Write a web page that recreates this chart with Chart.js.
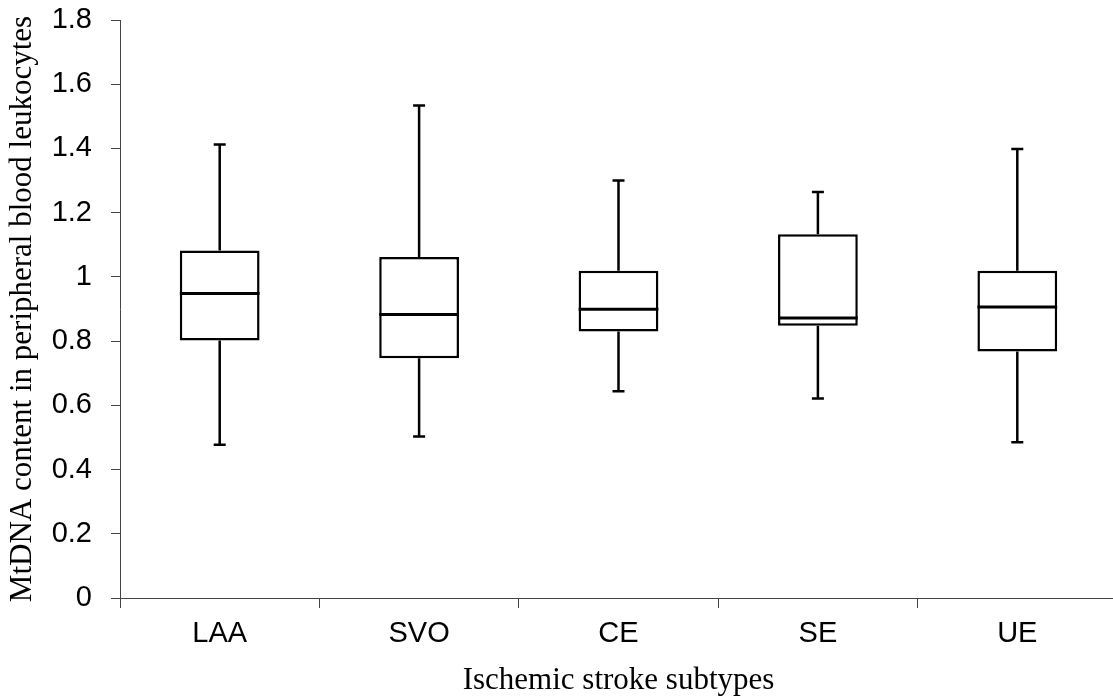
<!DOCTYPE html>
<html>
<head>
<meta charset="utf-8">
<script src="https://cdn.jsdelivr.net/npm/chart.js@4.4.1/dist/chart.umd.min.js"></script>
<style>
  html, body { margin: 0; padding: 0; background: #fff; overflow: hidden; }
  #wrap { width: 1117px; height: 699px; }
</style>
</head>
<body>
<div id="wrap"><canvas id="box-chart" width="1117" height="699"></canvas></div>
<script>
// stroke subtypes and box plot statistics
const subtypes = ["LAA", "SVO", "CE", "SE", "UE"];
const whiskerLow = [0.477, 0.503, 0.644, 0.621, 0.485];
const q1 = [0.802, 0.747, 0.830, 0.848, 0.768];
const median = [0.948, 0.883, 0.899, 0.872, 0.906];
const q3 = [1.082, 1.062, 1.019, 1.133, 1.019];
const whiskerHigh = [1.412, 1.534, 1.300, 1.264, 1.398];
const yTicks = [0, 0.2, 0.4, 0.6, 0.8, 1, 1.2, 1.4, 1.6, 1.8];

// whiskers + median drawn on top of the floating bars
const boxPlugin = {
  id: "boxExtras",
  afterDatasetsDraw(chart) {
    const ctx = chart.ctx;
    const x = chart.scales.x;
    const y = chart.scales.y;
    const cap = 6;
    ctx.save();
    ctx.strokeStyle = "#000";
    ctx.lineCap = "butt";
    subtypes.forEach(function (s, i) {
      const cx = x.getPixelForValue(i);
      const meta = chart.getDatasetMeta(0).data[i];
      const half = meta.width / 2;
      ctx.lineWidth = 2.5;
      ctx.beginPath();
      ctx.moveTo(cx, y.getPixelForValue(q3[i]));
      ctx.lineTo(cx, y.getPixelForValue(whiskerHigh[i]));
      ctx.moveTo(cx - cap, y.getPixelForValue(whiskerHigh[i]));
      ctx.lineTo(cx + cap, y.getPixelForValue(whiskerHigh[i]));
      ctx.moveTo(cx, y.getPixelForValue(q1[i]));
      ctx.lineTo(cx, y.getPixelForValue(whiskerLow[i]));
      ctx.moveTo(cx - cap, y.getPixelForValue(whiskerLow[i]));
      ctx.lineTo(cx + cap, y.getPixelForValue(whiskerLow[i]));
      ctx.stroke();
      ctx.lineWidth = 3;
      ctx.beginPath();
      ctx.moveTo(cx - half, y.getPixelForValue(median[i]));
      ctx.lineTo(cx + half, y.getPixelForValue(median[i]));
      ctx.stroke();
    });
    ctx.restore();
  }
};

new Chart(document.getElementById("box-chart"), {
  type: "bar",
  data: {
    labels: subtypes,
    datasets: [{
      data: subtypes.map(function (s, i) { return [q1[i], q3[i]]; }),
      backgroundColor: "#fff",
      borderColor: "#000",
      borderWidth: 2.5,
      borderSkipped: false,
      barPercentage: 0.4,
      categoryPercentage: 1
    }]
  },
  options: {
    responsive: false,
    animation: false,
    layout: { padding: { top: 20, right: 0, left: 0, bottom: 0 } },
    plugins: {
      legend: { display: false },
      tooltip: { enabled: false }
    },
    scales: {
      x: {
        offset: true,
        grid: { display: true, offset: true, drawOnChartArea: false, tickLength: 10, color: "#444", lineWidth: 1 },
        border: { color: "#444", width: 1 },
        ticks: { color: "#000", padding: 9, font: { family: "Liberation Sans, Arial", size: 29 } },
        title: {
          display: true,
          text: "Ischemic stroke subtypes",
          color: "#000",
          padding: { top: 0, bottom: 0 },
          font: { family: "Liberation Serif, Times New Roman", size: 31 }
        },
        afterFit: function (s) { s.height = 101; s.paddingLeft = 0; s.paddingRight = 0; }
      },
      y: {
        min: 0,
        max: 1.8,
        afterBuildTicks: function (s) { s.ticks = yTicks.map(function (v) { return { value: v }; }); },
        grid: { drawOnChartArea: false, tickLength: 9, color: "#444", lineWidth: 1 },
        border: { color: "#444", width: 1 },
        ticks: {
          color: "#000",
          padding: 19,
          font: { family: "Liberation Sans, Arial", size: 29 },
          callback: function (v) { return String(Number(v.toFixed(1))); }
        },
        title: {
          display: true,
          text: "MtDNA content in peripheral blood leukocytes",
          color: "#000",
          padding: { top: 4, bottom: 0 },
          font: { family: "Liberation Serif, Times New Roman", size: 31 }
        },
        afterFit: function (s) { s.width = 120; s.paddingTop = 0; s.paddingBottom = 0; }
      }
    }
  },
  plugins: [boxPlugin]
});
</script>
</body>
</html>
